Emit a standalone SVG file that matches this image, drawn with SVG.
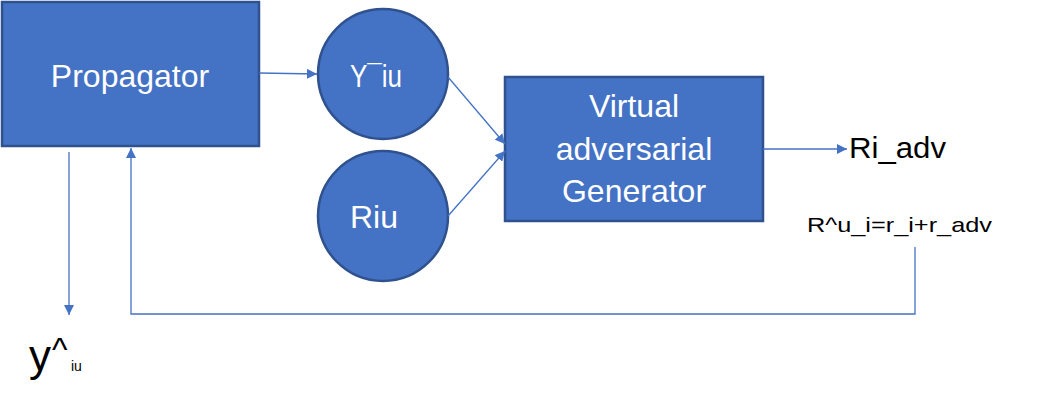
<svg xmlns="http://www.w3.org/2000/svg" width="1038" height="412" viewBox="0 0 1038 412">
<style>
.node{fill:#4472C4;stroke:#2F528F;stroke-width:2.5}
.wt{fill:#FFFFFF;font-family:"Liberation Sans",Arial,sans-serif;font-size:32px;text-anchor:middle}
.bt{fill:#000000;font-family:"Liberation Sans",Arial,sans-serif}
.conn{fill:none;stroke:#4472C4;stroke-width:1.3}
</style>
<defs>
<marker id="ah" viewBox="0 0 10 10" refX="10" refY="5" markerWidth="10" markerHeight="10" markerUnits="userSpaceOnUse" orient="auto">
<path d="M0,0 L10,5 L0,10 z" fill="#4472C4"/>
</marker>
</defs>
<rect width="1038" height="412" fill="#FFFFFF"/>
<g id="propagator">
<rect class="node" x="2" y="2" width="257" height="144"/>
<text class="wt" x="130" y="87">Propagator</text>
</g>
<g id="yiu">
<circle class="node" cx="383" cy="74" r="65"/>
<text class="wt" x="376" y="87" textLength="52" lengthAdjust="spacingAndGlyphs">Y¯iu</text>
</g>
<g id="riu">
<circle class="node" cx="383" cy="216" r="65"/>
<text class="wt" x="374" y="228">Riu</text>
</g>
<g id="generator">
<rect class="node" x="505" y="77" width="258" height="144"/>
<text class="wt" x="634" y="117">Virtual</text>
<text class="wt" x="634" y="160">adversarial</text>
<text class="wt" x="634" y="202">Generator</text>
</g>
<g id="labels">
<text class="bt" x="849" y="158" font-size="30" textLength="97" lengthAdjust="spacingAndGlyphs">Ri_adv</text>
<text class="bt" x="807" y="232" font-size="21" textLength="185" lengthAdjust="spacingAndGlyphs">R^u_i=r_i+r_adv</text>
<text class="bt" x="29" y="371" font-size="44">y</text>
<text class="bt" x="52" y="361" font-size="33">^</text>
<text class="bt" x="71" y="371" font-size="14">iu</text>
</g>
<g id="connectors">
<line class="conn" x1="259" y1="73" x2="317" y2="74" marker-end="url(#ah)"/>
<line class="conn" x1="448" y1="77" x2="505" y2="144" marker-end="url(#ah)"/>
<line class="conn" x1="448" y1="216" x2="505" y2="151" marker-end="url(#ah)"/>
<line class="conn" x1="763" y1="149" x2="847" y2="149" marker-end="url(#ah)"/>
<line class="conn" x1="69" y1="152" x2="69" y2="315" marker-end="url(#ah)"/>
<polyline class="conn" points="915,247 915,314 131,314 131,148" marker-end="url(#ah)"/>
</g>
</svg>
